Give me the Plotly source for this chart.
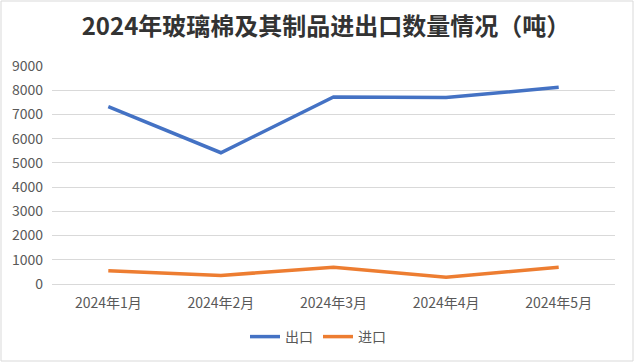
import plotly.graph_objects as go

categories = ["2024年1月", "2024年2月", "2024年3月", "2024年4月", "2024年5月"]
export_vals = [7320, 5420, 7720, 7700, 8120]
import_vals = [550, 355, 690, 280, 690]
series_names = ["出口", "进口"]
title_text = "2024年玻璃棉及其制品进出口数量情况（吨）"

FONT = "Noto Sans CJK SC"

fig = go.Figure()
fig.add_trace(go.Scatter(x=categories, y=export_vals, mode="lines", name=series_names[0],
                         line=dict(color="#4472C4", width=3.5)))
fig.add_trace(go.Scatter(x=categories, y=import_vals, mode="lines", name=series_names[1],
                         line=dict(color="#ED7D31", width=3.5)))

W, H = 635, 362
l, r, t, b = 52, 20, 66, 78
pw, ph = W - l - r, H - t - b

fig.update_layout(
    width=W, height=H,
    margin=dict(l=l, r=r, t=t, b=b, autoexpand=False),
    paper_bgcolor="white", plot_bgcolor="white",
    title=dict(text="<b>" + title_text + "</b>", x=326 / W, xanchor="center", y=1 - 27 / H, yanchor="middle",
               font=dict(family=FONT, size=24, color="#333333")),
    legend=dict(orientation="h", x=(318 - l) / pw, xanchor="center", y=-(337 - 284) / ph, yanchor="middle",
                font=dict(family=FONT, size=14, color="#595959"), itemwidth=30),
    font=dict(family=FONT, color="#595959"),
    showlegend=True,
    shapes=[dict(type="rect", xref="paper", yref="paper",
                 x0=-(l - 1) / pw, x1=1 + (r - 2) / pw, y0=-(b - 1) / ph, y1=1 + (t - 1) / ph,
                 line=dict(color="#d9d9d9", width=1), fillcolor="rgba(0,0,0,0)", layer="below")],
)
fig.update_xaxes(range=[-0.5, 4.5], showgrid=False, showline=True, linecolor="#d9d9d9", linewidth=1,
                 tickfont=dict(family=FONT, size=14, color="#595959"), ticks="",
                 ticklabelstandoff=6, automargin=False)
fig.update_yaxes(range=[0, 9000], dtick=1000, showgrid=True, gridcolor="#d9d9d9", gridwidth=1,
                 zeroline=False, showline=False, ticks="", automargin=False,
                 tickfont=dict(family=FONT, size=14, color="#595959"), ticklabelstandoff=8)

fig.write_html("out.html", config={"displayModeBar": False},
               post_script="document.body.style.margin='0';")
